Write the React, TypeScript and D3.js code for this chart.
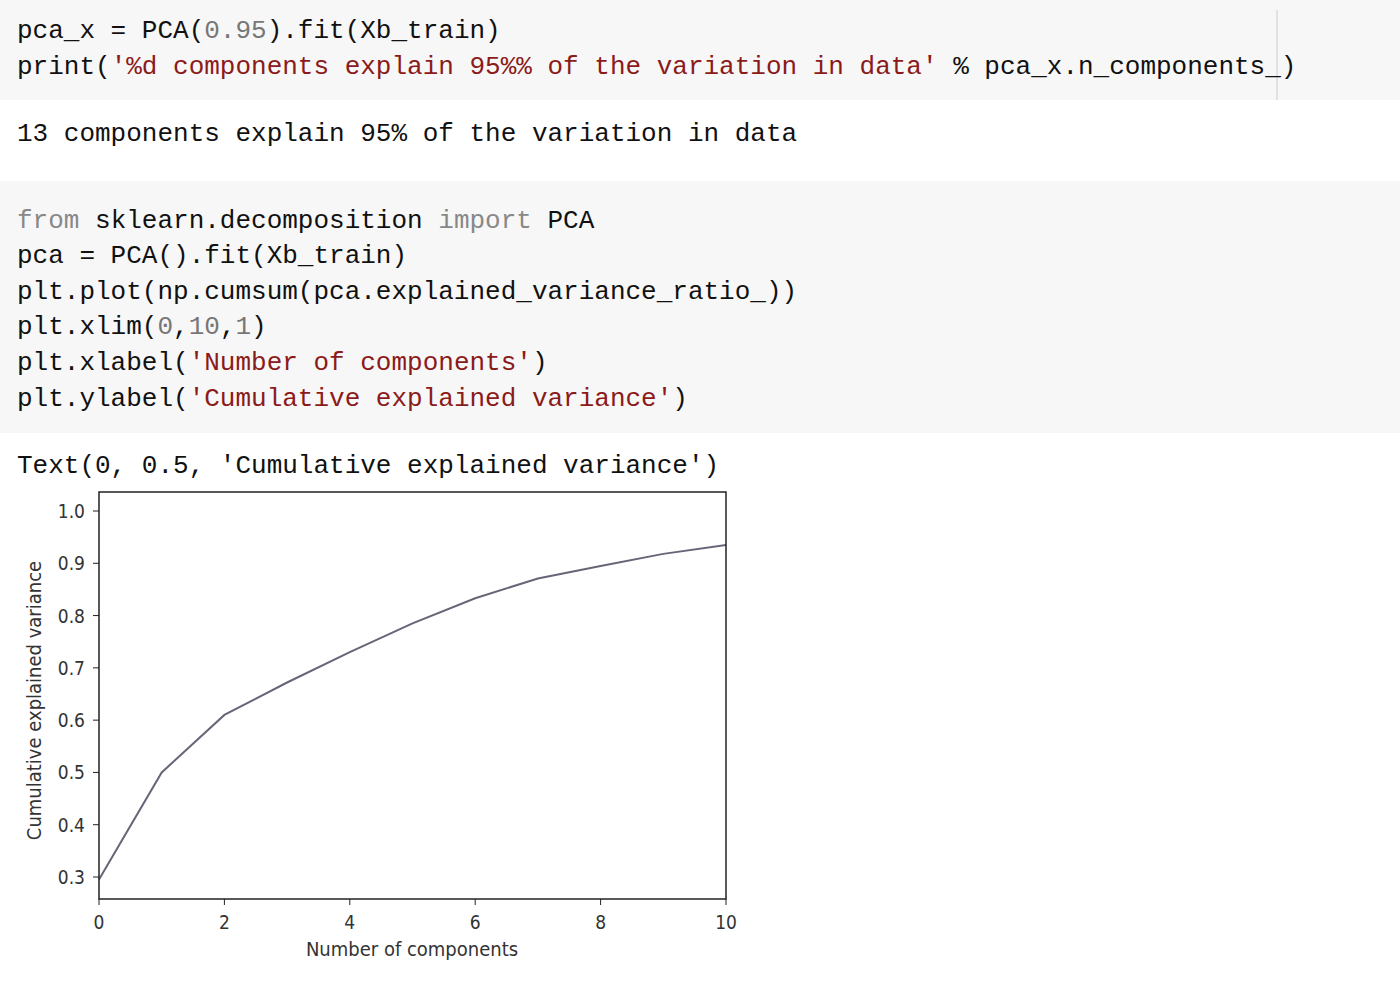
import React from "react";
import * as d3 from "d3";

const components = [0, 1, 2, 3, 4, 5, 6, 7, 8, 9, 10];
const cumVariance = [0.295, 0.5, 0.61, 0.672, 0.73, 0.785, 0.833, 0.871, 0.895, 0.918, 0.935];
const xTicks = [0, 2, 4, 6, 8, 10];
const yTicks = [0.3, 0.4, 0.5, 0.6, 0.7, 0.8, 0.9, 1.0];

type Seg = [string, string];
const K = "#111", S = "#8b1a1a", N = "#777", G = "#888";
const codeLines: { y: number; segs: Seg[] }[] = [
  { y: 38, segs: [["pca_x = PCA(", K], ["0.95", N], [").fit(Xb_train)", K]] },
  { y: 74, segs: [["print(", K], ["'%d components explain 95%% of the variation in data'", S], [" % pca_x.n_components_)", K]] },
  { y: 141, segs: [["13 components explain 95% of the variation in data", K]] },
  { y: 228, segs: [["from", G], [" sklearn.decomposition ", K], ["import", G], [" PCA", K]] },
  { y: 263, segs: [["pca = PCA().fit(Xb_train)", K]] },
  { y: 299, segs: [["plt.plot(np.cumsum(pca.explained_variance_ratio_))", K]] },
  { y: 334, segs: [["plt.xlim(", K], ["0", N], [",", K], ["10", N], [",", K], ["1", N], [")", K]] },
  { y: 370, segs: [["plt.xlabel(", K], ["'Number of components'", S], [")", K]] },
  { y: 406, segs: [["plt.ylabel(", K], ["'Cumulative explained variance'", S], [")", K]] },
  { y: 473, segs: [["Text(0, 0.5, 'Cumulative explained variance')", K]] },
];

export default function App() {
  const L = 99, R = 726, T = 492, B = 899;
  const x = d3.scaleLinear().domain([0, 10]).range([L, R]);
  const y = d3.scaleLinear().domain([0.3, 1.0]).range([877, 511]);
  const line = d3.line<number>().x((_, i) => x(components[i])).y((d) => y(d));
  const mono = "'Liberation Mono', 'Courier New', monospace";
  const sans = "'DejaVu Sans', sans-serif";
  return (
    <svg width={1400} height={988} style={{ position: "absolute", left: 0, top: 0, background: "#fff" }}>
      <rect x={0} y={0} width={1400} height={100} fill="#f7f7f7" />
      <rect x={0} y={181} width={1400} height={252} fill="#f7f7f7" />
      <line x1={1277} x2={1277} y1={10} y2={100} stroke="#ccc" />
      {codeLines.map((l, i) => (
        <text key={i} x={17} y={l.y} fontFamily={mono} fontSize={26} xmlSpace="preserve" style={{ whiteSpace: "pre" }}>
          {l.segs.map(([t, c], j) => (
            <tspan key={j} fill={c}>{t}</tspan>
          ))}
        </text>
      ))}
      <path d={line(cumVariance) || ""} fill="none" stroke="#6a6478" strokeWidth={2} />
      <rect x={L} y={T} width={R - L} height={B - T} fill="none" stroke="#222" strokeWidth={1.5} />
      {xTicks.map((t) => (
        <g key={t}>
          <line x1={x(t)} x2={x(t)} y1={B} y2={B + 6} stroke="#222" />
          <text x={x(t)} y={B + 30} textAnchor="middle" fontFamily={sans} fontSize={19} fill="#333" style={{ fontStretch: "condensed" }}>{t}</text>
        </g>
      ))}
      {yTicks.map((t) => (
        <g key={t}>
          <line x1={L - 6} x2={L} y1={y(t)} y2={y(t)} stroke="#222" />
          <text x={L - 14} y={y(t) + 7} textAnchor="end" fontFamily={sans} fontSize={19} fill="#333" style={{ fontStretch: "condensed" }}>{t.toFixed(1)}</text>
        </g>
      ))}
      <text x={412} y={956} textAnchor="middle" fontFamily={sans} fontSize={20} fill="#333" style={{ fontStretch: "condensed" }}>Number of components</text>
      <text transform={`translate(41,${(T + B) / 2 + 5}) rotate(-90)`} textAnchor="middle" fontFamily={sans} fontSize={20} fill="#333" style={{ fontStretch: "condensed" }}>Cumulative explained variance</text>
    </svg>
  );
}
